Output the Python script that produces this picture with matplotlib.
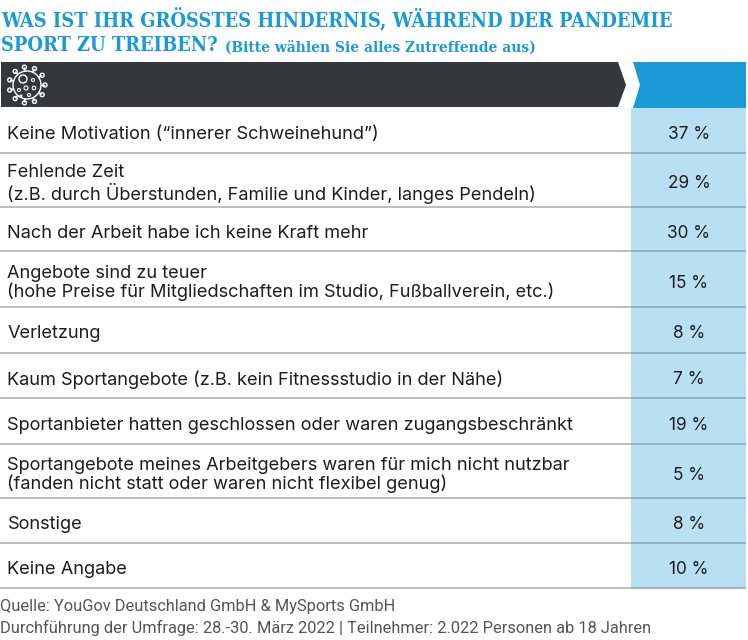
import numpy as np
import matplotlib
matplotlib.use("Agg")
import matplotlib.pyplot as plt
from matplotlib.patches import Polygon, Rectangle, Circle

labels = [
    "Keine Motivation (“innerer Schweinehund”)",
    "Fehlende Zeit\n(z.B. durch Überstunden, Familie und Kinder, langes Pendeln)",
    "Nach der Arbeit habe ich keine Kraft mehr",
    "Angebote sind zu teuer\n(hohe Preise für Mitgliedschaften im Studio, Fußballverein, etc.)",
    "Verletzung",
    "Kaum Sportangebote (z.B. kein Fitnessstudio in der Nähe)",
    "Sportanbieter hatten geschlossen oder waren zugangsbeschränkt",
    "Sportangebote meines Arbeitgebers waren für mich nicht nutzbar\n(fanden nicht statt oder waren nicht flexibel genug)",
    "Sonstige",
    "Keine Angabe",
]
values = [37, 29, 30, 15, 8, 7, 19, 5, 8, 10]

title1 = "WAS IST IHR GRÖSSTES HINDERNIS, WÄHREND DER PANDEMIE"
title2 = "SPORT ZU TREIBEN?"
subtitle = "(Bitte wählen Sie alles Zutreffende aus)"
source = "Quelle: YouGov Deutschland GmbH & MySports GmbH"
source2 = "Durchführung der Umfrage: 28.-30. März 2022 | Teilnehmer: 2.022 Personen ab 18 Jahren"

# row borders in pixels
row_edges = [108, 153, 207, 251, 307, 353, 398, 444, 498, 543, 588]

BLUE = "#1a9ad6"
LIGHT = "#b9dff2"
DARK = "#36373c"
INK = "#1d1d1f"

fig = plt.figure(figsize=(7.48, 6.40), dpi=100)
ax = fig.add_axes([0, 0, 1, 1])
ax.set_xlim(0, 748)
ax.set_ylim(640, 0)
ax.axis("off")

# header
ax.add_patch(Polygon([(1, 62), (618, 62), (626, 85), (618, 107), (1, 107)], fc=DARK, ec="none"))
ax.add_patch(Polygon([(633, 62), (746, 62), (746, 108), (633, 108), (640, 85)], fc=BLUE, ec="none"))

# light value column
ax.add_patch(Rectangle((631, 108), 115, 480, fc=LIGHT, ec="none", zorder=1))

for y in row_edges[1:]:
    ax.plot([0, 631], [y, y], color="#b3b3b3", lw=1.2, zorder=2, solid_capstyle="butt")
    ax.plot([631, 746], [y, y], color="#8aa9ba", lw=1.2, zorder=2, solid_capstyle="butt")

for i, (lab, val) in enumerate(zip(labels, values)):
    yc = (row_edges[i] + row_edges[i + 1]) / 2 + 4
    ax.text(7.5, yc, lab, family="Inter", fontsize=13.1, color=INK, va="center", ha="left",
            linespacing=1.08, zorder=3)
    ax.text(689, yc, f"{val} %", family="Inter", fontsize=12.4, color=INK, va="center", ha="center", zorder=3)

# title
ax.text(1, 20, title1, family="DejaVu Serif", stretch="condensed", weight="bold", fontsize=14.35, color=BLUE, va="center")
ax.text(1, 45, title2, family="DejaVu Serif", stretch="condensed", weight="bold", fontsize=14.35, color=BLUE, va="center")
ax.text(225, 47, subtitle, family="DejaVu Serif", stretch="condensed", weight="bold", fontsize=11.05, color=BLUE, va="center")

# source
ax.text(0, 607, source, family="Roboto", fontsize=11.8, color="#555555", va="center")
ax.text(0, 628, source2, family="Roboto", fontsize=11.8, color="#555555", va="center")

# virus icon
cx, cy = 27, 85
ax.add_patch(Circle((cx, cy), 14, fc="none", ec="white", lw=1))
for a in np.arange(0, 2 * np.pi, 2 * np.pi / 11):
    ax.plot([cx + 14 * np.cos(a), cx + 17 * np.cos(a)], [cy + 14 * np.sin(a), cy + 17 * np.sin(a)], color="white", lw=1)
    ax.add_patch(Circle((cx + 18 * np.cos(a), cy + 18 * np.sin(a)), 2, fc=DARK, ec="white", lw=1))
ax.add_patch(Circle((cx - 4, cy - 6), 4, fc="none", ec="white", lw=1))
for dx, dy, r in [(6, -5, 1.5), (-8, 5, 1.5), (-1, 3, 2), (7, 3, 1.8), (2, 10, 1.5), (-6, 11, 1)]:
    ax.add_patch(Circle((cx + dx, cy + dy), r, fc="none", ec="white", lw=0.8))

fig.savefig("out.png", dpi=100)
